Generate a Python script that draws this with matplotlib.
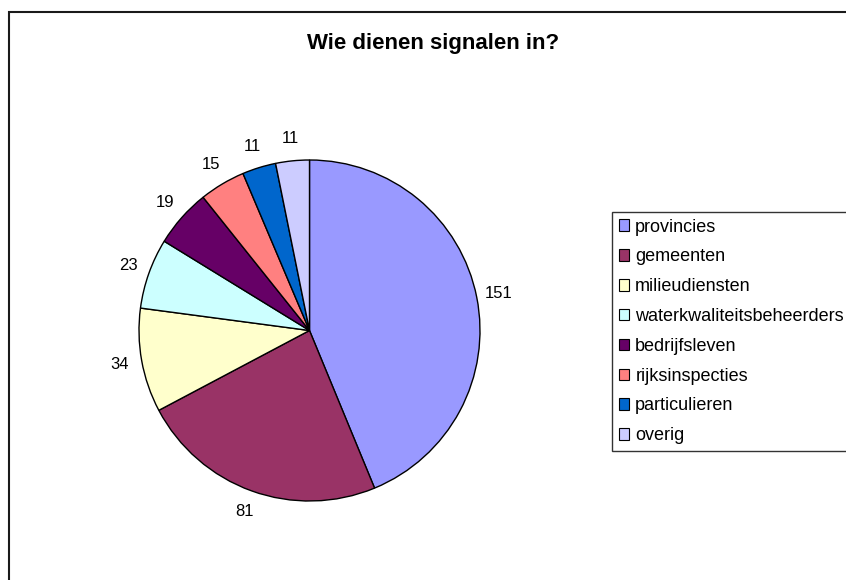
import matplotlib.pyplot as plt
from matplotlib.patches import Rectangle, Patch

plt.rcParams["font.family"] = ["Liberation Sans", "DejaVu Sans"]

# Data
categories = ["provincies", "gemeenten", "milieudiensten", "waterkwaliteitsbeheerders",
              "bedrijfsleven", "rijksinspecties", "particulieren", "overig"]
values = [151, 81, 34, 23, 19, 15, 11, 11]
colors = ["#9999FF", "#993366", "#FFFFCC", "#CCFFFF",
          "#660066", "#FF8080", "#0066CC", "#CCCCFF"]

W, H = 846, 580
fig = plt.figure(figsize=(W / 100, H / 100), dpi=100)

# Pie axes: centre (309.5, 330.5) px, radius 170.5 px
cx, cy, r = 309.5, 330.5, 170.5
ax = fig.add_axes([(cx - r) / W, (H - cy - r) / H, 2 * r / W, 2 * r / H])
wedges, texts = ax.pie(values, colors=colors, labels=[str(v) for v in values],
                       startangle=90, counterclock=False, labeldistance=1.13,
                       wedgeprops=dict(edgecolor="black", linewidth=1.0),
                       textprops=dict(fontsize=12))
for t in texts:
    t.set_ha("center")
    t.set_va("center")
ax.set_xlim(-1, 1)
ax.set_ylim(-1, 1)
ax.set_aspect("equal")

# Title
fig.text(433 / W, 1 - 44 / H, "Wie dienen signalen in?", ha="center", va="center",
         fontsize=16, fontweight="bold")

# Chart area border
fig.patches.append(Rectangle((9 / W, -0.1), 1.2, 1.1 - 12 / H, transform=fig.transFigure,
                             fill=False, edgecolor="#1a1a1a", linewidth=1.5))

# Legend
handles = [Patch(facecolor=c, edgecolor="black", linewidth=0.8) for c in colors]
leg = fig.legend(handles, categories, loc="upper left",
                 bbox_to_anchor=(612 / W, 1 - 212 / H), fontsize=13,
                 frameon=True, fancybox=False, edgecolor="black",
                 handlelength=0.6, handleheight=0.6, handletextpad=0.33,
                 labelspacing=0.71, borderpad=0.36, borderaxespad=0)
leg.get_frame().set_linewidth(1.0)

fig.savefig("out.png", dpi=100)
